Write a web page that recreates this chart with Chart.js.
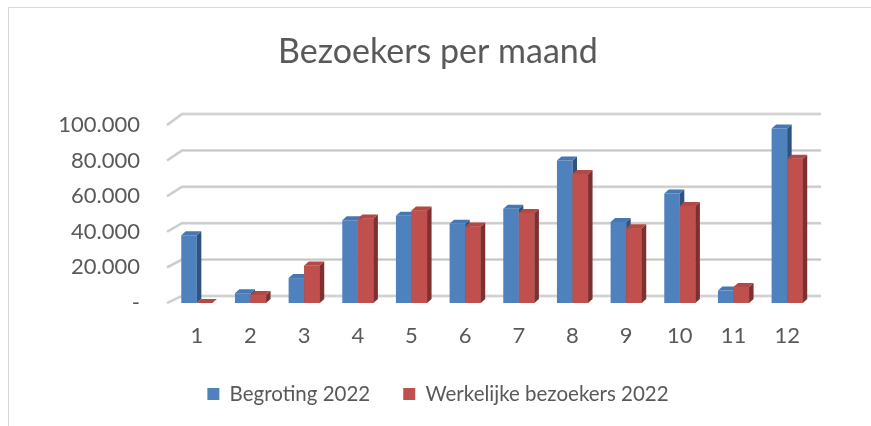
<!DOCTYPE html>
<html lang="nl">
<head>
<meta charset="utf-8">
<title>Bezoekers per maand</title>
<script src="https://cdn.jsdelivr.net/npm/chart.js@4.4.1/dist/chart.umd.min.js"></script>
<style>
  html, body { margin: 0; padding: 0; background: #fff; }
  #wrap { width: 871px; height: 426px; }
</style>
</head>
<body>
<div id="wrap"><canvas id="chart" width="871" height="426"></canvas></div>
<script>
// data
const months = ['1', '2', '3', '4', '5', '6', '7', '8', '9', '10', '11', '12'];
const begroting = [38000, 5500, 14000, 46500, 49000, 44500, 53000, 80000, 45500, 61500, 7000, 98000];
const werkelijk = [0, 4500, 21000, 47500, 52000, 43000, 50500, 72500, 42000, 54500, 9000, 81000];
const yMax = 100000;
const yStep = 20000;

const textColor = '#595959';
const fontFamily = 'Lato, "Liberation Sans", sans-serif';

// colours: front, top, side
const blue = ['#4f81bd', '#4777b2', '#30527f'];
const red = ['#c0504d', '#b34845', '#7e302e'];

// 3D look
const barDepthX = 4.5;
const barDepthY = -4;
const wallDepthX = 15;

function formatThousands(v) {
  if (v === 0) return '-';
  return String(v).replace(/\B(?=(\d{3})+(?!\d))/g, '.');
}

// light grey frame on the left and top, like the office chart
const frame = {
  id: 'frame',
  beforeDraw(chart) {
    const ctx = chart.ctx;
    ctx.save();
    ctx.strokeStyle = '#d9d9d9';
    ctx.lineWidth = 1;
    ctx.beginPath();
    ctx.moveTo(8.5, chart.height);
    ctx.lineTo(8.5, 7.5);
    ctx.lineTo(chart.width, 7.5);
    ctx.stroke();
    ctx.restore();
  }
};

// gridlines on the back wall with the slanted side wall part
const backWall = {
  id: 'backWall',
  beforeDatasetsDraw(chart) {
    const ctx = chart.ctx;
    const yScale = chart.scales.y;
    const area = chart.chartArea;
    ctx.save();
    yScale.ticks.forEach(t => {
      const y = yScale.getPixelForValue(t.value);
      const dy = -7 - 4 * (t.value / yMax);
      const x0 = area.left - 3;
      const pts = [[x0, y], [x0 + wallDepthX, y + dy], [area.right + 7, y + dy]];
      [[3, '#dedede'], [1.2, '#c6c6c6']].forEach(([w, c]) => {
        ctx.lineWidth = w;
        ctx.strokeStyle = c;
        ctx.beginPath();
        ctx.moveTo(pts[0][0], pts[0][1]);
        ctx.lineTo(pts[1][0], pts[1][1]);
        ctx.lineTo(pts[2][0], pts[2][1]);
        ctx.stroke();
      });
    });
    ctx.restore();
  }
};

function drawFaces(ctx, bar, cols) {
  const { x, y, base, width } = bar.getProps(['x', 'y', 'base', 'width'], true);
  const l = x - width / 2;
  const r = x + width / 2;
  // side
  ctx.fillStyle = cols[2];
  ctx.beginPath();
  ctx.moveTo(r, y);
  ctx.lineTo(r + barDepthX, y + barDepthY);
  ctx.lineTo(r + barDepthX, base + barDepthY);
  ctx.lineTo(r, base);
  ctx.closePath();
  ctx.fill();
  // top
  ctx.fillStyle = cols[1];
  ctx.beginPath();
  ctx.moveTo(l, y);
  ctx.lineTo(l + barDepthX, y + barDepthY);
  ctx.lineTo(r + barDepthX, y + barDepthY);
  ctx.lineTo(r, y);
  ctx.closePath();
  ctx.fill();
}

// top and side faces; the red fronts are drawn again so they sit over the blue sides
const barFaces = {
  id: 'barFaces',
  afterDatasetsDraw(chart) {
    const ctx = chart.ctx;
    ctx.save();
    chart.getDatasetMeta(0).data.forEach(bar => drawFaces(ctx, bar, blue));
    chart.getDatasetMeta(1).data.forEach(bar => {
      bar.draw(ctx, chart.chartArea);
      drawFaces(ctx, bar, red);
    });
    ctx.restore();
  }
};

new Chart(document.getElementById('chart'), {
  type: 'bar',
  data: {
    labels: months,
    datasets: [
      { label: 'Begroting 2022', data: begroting, backgroundColor: blue[0] },
      { label: 'Werkelijke bezoekers 2022', data: werkelijk, backgroundColor: red[0] }
    ]
  },
  options: {
    responsive: false,
    animation: false,
    devicePixelRatio: 1,
    categoryPercentage: 0.58,
    barPercentage: 1,
    layout: { padding: { top: 0, right: 0, bottom: 11.75, left: 5 } },
    scales: {
      x: {
        grid: { display: false, drawTicks: false },
        border: { display: false },
        ticks: { color: textColor, font: { family: fontFamily, size: 22 }, padding: 19.8 },
        afterFit(s) { s.height = 47.75; }
      },
      y: {
        min: 0,
        max: yMax,
        grid: { display: false, drawTicks: false },
        border: { display: false },
        ticks: {
          stepSize: yStep,
          color: textColor,
          font: { family: fontFamily, size: 22 },
          padding: 30,
          callback: v => formatThousands(v)
        },
        afterFit(s) { s.width = 165; }
      },
      // empty space on the right so the title sits where it does in the original
      spacer: {
        type: 'linear',
        position: 'right',
        grid: { display: false, drawTicks: false },
        border: { display: false },
        ticks: { display: false },
        afterFit(s) { s.width = 57; }
      }
    },
    plugins: {
      title: {
        display: true,
        text: 'Bezoekers per maand',
        color: textColor,
        font: { family: fontFamily, size: 34, weight: 'normal' },
        padding: { top: 31.6, bottom: 52.6 }
      },
      legend: {
        position: 'bottom',
        labels: {
          color: textColor,
          font: { family: fontFamily, size: 20.5 },
          boxWidth: 12,
          boxHeight: 12,
          padding: 33
        }
      },
      tooltip: { enabled: false }
    }
  },
  plugins: [frame, backWall, barFaces]
});
</script>
</body>
</html>
